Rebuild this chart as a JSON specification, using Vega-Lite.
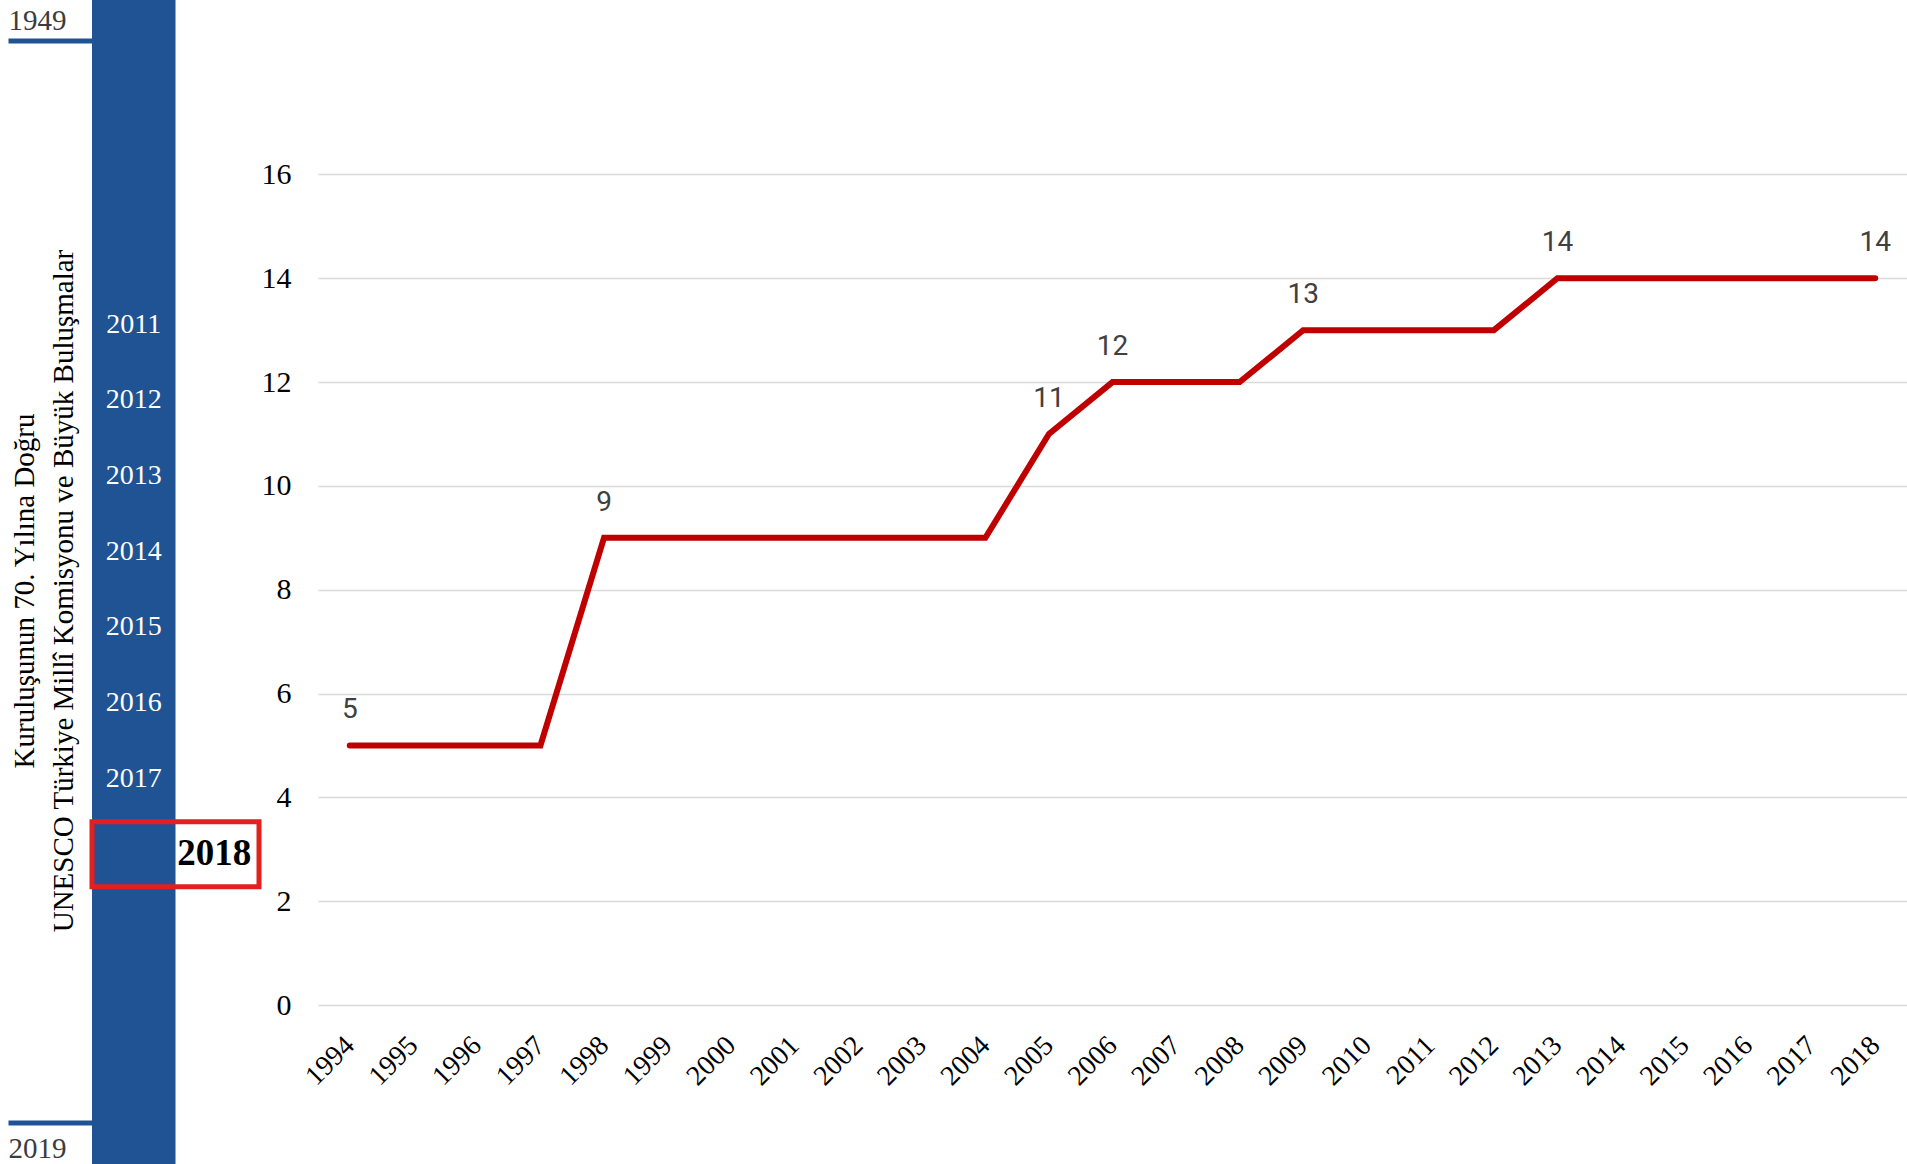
{
  "$schema": "https://vega.github.io/schema/vega-lite/v6.json",
  "padding": 0,
  "spacing": 0,
  "bounds": "flush",
  "background": "white",
  "config": {"view": {"stroke": null}, "font": "Liberation Serif"},
  "datasets": {
    "meetings": [
      {"year": "1994", "count": 5, "labeled": true},
      {"year": "1995", "count": 5, "labeled": false},
      {"year": "1996", "count": 5, "labeled": false},
      {"year": "1997", "count": 5, "labeled": false},
      {"year": "1998", "count": 9, "labeled": true},
      {"year": "1999", "count": 9, "labeled": false},
      {"year": "2000", "count": 9, "labeled": false},
      {"year": "2001", "count": 9, "labeled": false},
      {"year": "2002", "count": 9, "labeled": false},
      {"year": "2003", "count": 9, "labeled": false},
      {"year": "2004", "count": 9, "labeled": false},
      {"year": "2005", "count": 11, "labeled": true},
      {"year": "2006", "count": 12, "labeled": true},
      {"year": "2007", "count": 12, "labeled": false},
      {"year": "2008", "count": 12, "labeled": false},
      {"year": "2009", "count": 13, "labeled": true},
      {"year": "2010", "count": 13, "labeled": false},
      {"year": "2011", "count": 13, "labeled": false},
      {"year": "2012", "count": 13, "labeled": false},
      {"year": "2013", "count": 14, "labeled": true},
      {"year": "2014", "count": 14, "labeled": false},
      {"year": "2015", "count": 14, "labeled": false},
      {"year": "2016", "count": 14, "labeled": false},
      {"year": "2017", "count": 14, "labeled": false},
      {"year": "2018", "count": 14, "labeled": true}
    ],
    "sidebar": [
      {"year": "2011", "kind": "chapter"},
      {"year": "2012", "kind": "chapter"},
      {"year": "2013", "kind": "chapter"},
      {"year": "2014", "kind": "chapter"},
      {"year": "2015", "kind": "chapter"},
      {"year": "2016", "kind": "chapter"},
      {"year": "2017", "kind": "chapter"},
      {"year": "2018", "kind": "current"}
    ],
    "ends": [
      {"end": "1949"},
      {"end": "2019"}
    ],
    "heading": [
      {"title": "Kuruluşunun 70. Yılına Doğru\nUNESCO Türkiye Millî Komisyonu ve Büyük Buluşmalar"}
    ]
  },
  "hconcat": [
    {
      "width": 318,
      "height": 1164,
      "resolve": {"scale": {"y": "independent"}},
      "layer": [
        {
          "data": {"values": [{"part": "timeline"}]},
          "mark": {"type": "rect", "color": "#1F5393"},
          "encoding": {
            "x": {"datum": "bar", "type": "nominal", "bandPosition": 0,
                  "scale": {"type": "band", "domain": ["edge", "bar", "box", "end"], "range": [8.5, 342.5], "paddingInner": 0, "paddingOuter": 0},
                  "axis": null},
            "x2": {"datum": "box", "bandPosition": 0}
          }
        },
        {
          "data": {"name": "ends"},
          "mark": {"type": "rule", "color": "#1F5393", "strokeWidth": 5},
          "encoding": {
            "x": {"datum": "edge", "type": "nominal", "bandPosition": 0},
            "x2": {"datum": "bar", "bandPosition": 0},
            "y": {"field": "end", "type": "nominal", "scale": {"type": "point", "domain": ["1949", "2019"], "range": [41, 1123], "padding": 0}, "axis": null}
          }
        },
        {
          "data": {"name": "ends"},
          "transform": [{"filter": "datum.end === '1949'"}],
          "mark": {"type": "text", "font": "Liberation Serif", "fontSize": 29, "color": "#3C3C3C", "align": "left", "baseline": "alphabetic", "dx": 0, "dy": -11},
          "encoding": {
            "x": {"datum": "edge", "type": "nominal", "bandPosition": 0},
            "y": {"field": "end", "type": "nominal", "scale": {"type": "point", "domain": ["1949", "2019"], "range": [41, 1123], "padding": 0}, "axis": null},
            "text": {"field": "end"}
          }
        },
        {
          "data": {"name": "ends"},
          "transform": [{"filter": "datum.end === '2019'"}],
          "mark": {"type": "text", "font": "Liberation Serif", "fontSize": 29, "color": "#3C3C3C", "align": "left", "baseline": "alphabetic", "dx": 0, "dy": 35},
          "encoding": {
            "x": {"datum": "edge", "type": "nominal", "bandPosition": 0},
            "y": {"field": "end", "type": "nominal", "scale": {"type": "point", "domain": ["1949", "2019"], "range": [41, 1123], "padding": 0}, "axis": null},
            "text": {"field": "end"}
          }
        },
        {
          "data": {"name": "sidebar"},
          "transform": [{"filter": "datum.kind === 'chapter'"}],
          "mark": {"type": "text", "font": "Liberation Serif", "fontSize": 28, "color": "white", "align": "center", "baseline": "middle"},
          "encoding": {
            "x": {"datum": "bar", "type": "nominal", "bandPosition": 0.5},
            "y": {"field": "year", "type": "nominal", "bandPosition": 0.5,
                  "scale": {"type": "band", "domain": ["2011", "2012", "2013", "2014", "2015", "2016", "2017", "2018"], "range": [287, 892], "paddingInner": 0.14, "paddingOuter": 0.07},
                  "axis": null},
            "text": {"field": "year"}
          }
        },
        {
          "data": {"name": "sidebar"},
          "transform": [{"filter": "datum.kind === 'current'"}],
          "mark": {"type": "rect", "fillOpacity": 0, "stroke": "#E3201F", "strokeWidth": 5},
          "encoding": {
            "x": {"datum": "bar", "type": "nominal", "bandPosition": 0},
            "x2": {"datum": "end", "bandPosition": 0},
            "y": {"field": "year", "type": "nominal",
                  "scale": {"type": "band", "domain": ["2011", "2012", "2013", "2014", "2015", "2016", "2017", "2018"], "range": [287, 892], "paddingInner": 0.14, "paddingOuter": 0.07},
                  "axis": null}
          }
        },
        {
          "data": {"name": "sidebar"},
          "transform": [{"filter": "datum.kind === 'current'"}],
          "mark": {"type": "text", "font": "Liberation Serif", "fontSize": 37, "fontWeight": "bold", "color": "black", "align": "center", "baseline": "middle", "dx": -3},
          "encoding": {
            "x": {"datum": "box", "type": "nominal", "bandPosition": 0.5},
            "y": {"field": "year", "type": "nominal", "bandPosition": 0.5,
                  "scale": {"type": "band", "domain": ["2011", "2012", "2013", "2014", "2015", "2016", "2017", "2018"], "range": [287, 892], "paddingInner": 0.14, "paddingOuter": 0.07},
                  "axis": null},
            "text": {"field": "year"}
          }
        },
        {
          "data": {"name": "heading"},
          "mark": {"type": "text", "font": "Liberation Serif", "fontSize": 29, "color": "black", "angle": 270, "align": "center", "baseline": "alphabetic", "lineBreak": "\n", "lineHeight": 39, "dx": -9, "dy": 25},
          "encoding": {
            "x": {"datum": "edge", "type": "nominal", "bandPosition": 0},
            "text": {"field": "title"}
          }
        }
      ]
    },
    {
      "width": 1589,
      "height": 1005,
      "data": {"name": "meetings"},
      "encoding": {
        "x": {"field": "year", "type": "ordinal", "scale": {"type": "point", "padding": 0.5},
              "axis": {"title": null, "labelAngle": -45, "labelAlign": "right", "labelBaseline": "top", "domain": false, "ticks": false, "grid": false,
                       "labelFont": "Liberation Serif", "labelFontSize": 28, "labelColor": "#000000",
                       "labelPadding": 26, "labelOffset": -10, "labelOverlap": false, "labelBound": false}},
        "y": {"field": "count", "type": "quantitative", "scale": {"domain": [0, 19.36], "nice": false, "zero": true},
              "axis": {"title": null, "values": [0, 2, 4, 6, 8, 10, 12, 14, 16], "grid": true, "gridColor": "#D9D9D9", "gridWidth": 1.5,
                       "domain": false, "ticks": false, "labelFont": "Liberation Serif", "labelFontSize": 30,
                       "labelColor": "#000000", "labelPadding": 27}}
      },
      "layer": [
        {"mark": {"type": "line", "color": "#C00000", "strokeWidth": 6, "strokeCap": "round", "strokeJoin": "miter"}},
        {
          "transform": [{"filter": "datum.labeled"}],
          "mark": {"type": "text", "font": "Liberation Sans Narrow, Roboto", "fontSize": 28, "color": "#404040", "align": "center", "baseline": "alphabetic", "dy": -27},
          "encoding": {"text": {"field": "count", "type": "quantitative"}}
        }
      ]
    }
  ]
}
